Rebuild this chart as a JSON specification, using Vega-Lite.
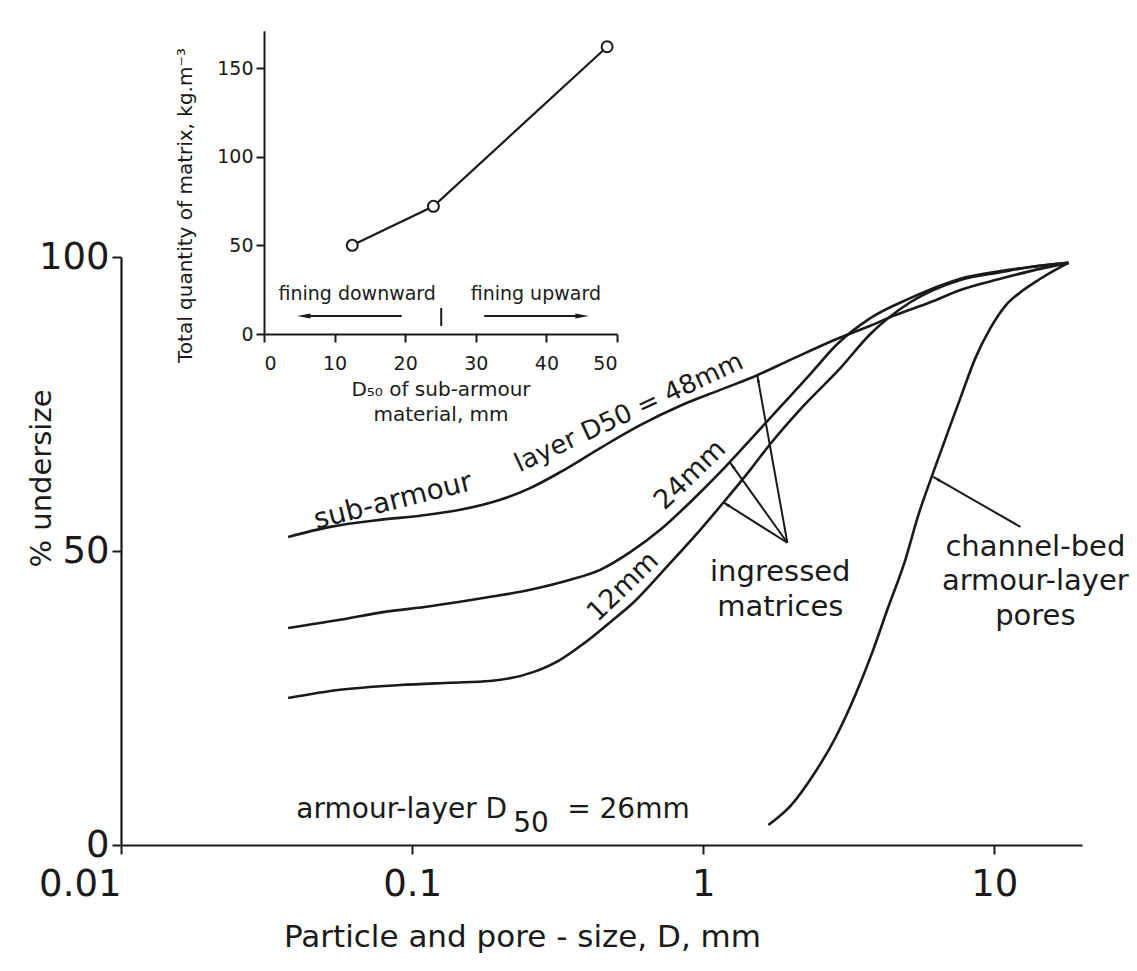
{
"$schema": "https://vega.github.io/schema/vega-lite/v6.json",
"width": 961, "height": 588,
"autosize": {"type": "none"},
"padding": {"left": 121, "top": 257, "right": 55, "bottom": 126},
"background": "white",
"config": {
  "view": {"stroke": null},
  "font": "DejaVu Sans",
  "axis": {"grid": false, "domainColor": "#1a1a1a", "tickColor": "#1a1a1a", "labelColor": "#1a1a1a", "titleColor": "#1a1a1a", "titleFontWeight": "normal", "labelFont": "DejaVu Sans", "titleFont": "DejaVu Sans"},
  "text": {"font": "DejaVu Sans", "color": "#1a1a1a"}
},
"datasets": {
  "curves": [
    {"curve":"48mm","D":0.0375,"pct":52.4},{"curve":"48mm","D":0.05225,"pct":54.1},{"curve":"48mm","D":0.07762,"pct":55.3},{"curve":"48mm","D":0.1065,"pct":56.0},{"curve":"48mm","D":0.1462,"pct":57.0},{"curve":"48mm","D":0.2006,"pct":58.7},{"curve":"48mm","D":0.2543,"pct":60.7},{"curve":"48mm","D":0.3226,"pct":63.4},{"curve":"48mm","D":0.4426,"pct":67.5},{"curve":"48mm","D":0.6074,"pct":71.4},{"curve":"48mm","D":0.8337,"pct":74.7},{"curve":"48mm","D":1.144,"pct":77.4},{"curve":"48mm","D":1.533,"pct":79.9},{"curve":"48mm","D":1.991,"pct":82.5},{"curve":"48mm","D":2.888,"pct":86.1},{"curve":"48mm","D":3.75,"pct":88.3},{"curve":"48mm","D":4.497,"pct":90.0},{"curve":"48mm","D":6.027,"pct":92.3},{"curve":"48mm","D":7.642,"pct":94.4},{"curve":"48mm","D":10.49,"pct":96.3},{"curve":"48mm","D":13.3,"pct":97.6},{"curve":"48mm","D":17.96,"pct":99.0},
    {"curve":"24mm","D":0.0375,"pct":36.9},{"curve":"24mm","D":0.05656,"pct":38.3},{"curve":"24mm","D":0.07949,"pct":39.6},{"curve":"24mm","D":0.1153,"pct":40.6},{"curve":"24mm","D":0.1754,"pct":42.0},{"curve":"24mm","D":0.2543,"pct":43.4},{"curve":"24mm","D":0.3491,"pct":45.1},{"curve":"24mm","D":0.4426,"pct":46.8},{"curve":"24mm","D":0.5612,"pct":49.8},{"curve":"24mm","D":0.7116,"pct":53.6},{"curve":"24mm","D":0.9023,"pct":58.3},{"curve":"24mm","D":1.144,"pct":63.4},{"curve":"24mm","D":1.45,"pct":68.9},{"curve":"24mm","D":1.839,"pct":74.5},{"curve":"24mm","D":2.332,"pct":80.1},{"curve":"24mm","D":2.888,"pct":85.2},{"curve":"24mm","D":3.75,"pct":89.6},{"curve":"24mm","D":5.144,"pct":93.0},{"curve":"24mm","D":7.642,"pct":96.3},{"curve":"24mm","D":10.49,"pct":97.6},{"curve":"24mm","D":13.3,"pct":98.3},{"curve":"24mm","D":17.96,"pct":99.0},
    {"curve":"12mm","D":0.0375,"pct":25.0},{"curve":"12mm","D":0.05656,"pct":26.4},{"curve":"12mm","D":0.09095,"pct":27.2},{"curve":"12mm","D":0.1351,"pct":27.6},{"curve":"12mm","D":0.1854,"pct":27.9},{"curve":"12mm","D":0.2604,"pct":29.4},{"curve":"12mm","D":0.3226,"pct":31.5},{"curve":"12mm","D":0.3869,"pct":34.2},{"curve":"12mm","D":0.4792,"pct":37.9},{"curve":"12mm","D":0.5746,"pct":41.2},{"curve":"12mm","D":0.752,"pct":47.4},{"curve":"12mm","D":0.9766,"pct":53.6},{"curve":"12mm","D":1.171,"pct":58.2},{"curve":"12mm","D":1.45,"pct":63.8},{"curve":"12mm","D":1.699,"pct":68.2},{"curve":"12mm","D":2.154,"pct":74.1},{"curve":"12mm","D":2.957,"pct":81.1},{"curve":"12mm","D":3.75,"pct":86.9},{"curve":"12mm","D":5.144,"pct":92.3},{"curve":"12mm","D":7.642,"pct":96.1},{"curve":"12mm","D":10.49,"pct":97.4},{"curve":"12mm","D":13.3,"pct":98.3},{"curve":"12mm","D":17.96,"pct":99.0},
    {"curve":"pores","D":1.673,"pct":3.4},{"curve":"pores","D":1.991,"pct":6.6},{"curve":"pores","D":2.388,"pct":11.9},{"curve":"pores","D":2.842,"pct":18.2},{"curve":"pores","D":3.329,"pct":25.5},{"curve":"pores","D":3.81,"pct":32.8},{"curve":"pores","D":4.288,"pct":40.0},{"curve":"pores","D":4.945,"pct":48.5},{"curve":"pores","D":5.481,"pct":56.1},{"curve":"pores","D":6.119,"pct":62.9},{"curve":"pores","D":7.062,"pct":71.4},{"curve":"pores","D":7.642,"pct":76.0},{"curve":"pores","D":8.604,"pct":82.8},{"curve":"pores","D":9.69,"pct":87.9},{"curve":"pores","D":10.91,"pct":91.7},{"curve":"pores","D":12.29,"pct":94.0},{"curve":"pores","D":14.39,"pct":96.3},{"curve":"pores","D":16.2,"pct":97.8},{"curve":"pores","D":17.96,"pct":99.0}
  ]
},
"layer": [
 {
  "layer": [
   {
    "data": {"name": "curves"},
    "mark": {"type": "line", "color": "#1a1a1a", "strokeWidth": 2.6, "interpolate": "monotone"},
    "encoding": {
      "x": {"field": "D", "type": "quantitative",
            "scale": {"type": "log", "domain": [0.01, 20], "nice": false},
            "axis": {"orient": "bottom", "values": [0.01, 0.1, 1, 10], "format": "~g",
                     "title": "Particle and pore - size, D, mm", "domainWidth": 2.2, "tickWidth": 2, "tickSize": 9,
                     "labelFontSize": 37, "labelPadding": 12,
                     "labelAlign": {"condition": {"test": "datum.value < 0.05", "value": "right"}, "value": "center"},
                     "titleFontSize": 31, "titleX": 401, "titleY": 92, "titleBaseline": "middle", "titleAlign": "center"}},
      "y": {"field": "pct", "type": "quantitative",
            "scale": {"domain": [0, 100], "nice": false, "zero": false},
            "axis": {"orient": "left", "values": [0, 50, 100], "title": "% undersize",
                     "domainWidth": 2.2, "tickWidth": 2, "tickSize": 9, "labelFontSize": 37, "labelPadding": 3,
                     "labelBaseline": "middle", "titleFontSize": 29, "titleX": -80, "titleY": 221, "titleAngle": -90,
                     "titleBaseline": "middle", "titleAlign": "center"}},
      "detail": {"field": "curve"}
    }
   },
   {
    "data": {"values": [
      {"D": 1.945, "pct": 51.4, "D2": 1.533, "pct2": 79.9},
      {"D": 1.945, "pct": 51.4, "D2": 1.238, "pct2": 65.0},
      {"D": 1.945, "pct": 51.4, "D2": 1.171, "pct2": 58.3},
      {"D": 12.29, "pct": 54.1, "D2": 6.17, "pct2": 62.6}
    ]},
    "mark": {"type": "rule", "color": "#1a1a1a", "strokeWidth": 2},
    "encoding": {
      "x": {"field": "D", "type": "quantitative"},
      "y": {"field": "pct", "type": "quantitative"},
      "x2": {"field": "D2"}, "y2": {"field": "pct2"}
    }
   },
   {
    "data": {"values": [{"D": 1.533, "pct": 79.9}]},
    "mark": {"type": "point", "shape": "M0,0L0.4,1.8L-0.4,1.8Z", "filled": true, "color": "#1a1a1a", "opacity": 1, "size": 64, "angle": -10},
    "encoding": {"x": {"field": "D", "type": "quantitative"}, "y": {"field": "pct", "type": "quantitative"}}
   },
   {
    "data": {"values": [{"D": 1.238, "pct": 65.0}]},
    "mark": {"type": "point", "shape": "M0,0L0.4,1.8L-0.4,1.8Z", "filled": true, "color": "#1a1a1a", "opacity": 1, "size": 64, "angle": -35},
    "encoding": {"x": {"field": "D", "type": "quantitative"}, "y": {"field": "pct", "type": "quantitative"}}
   },
   {
    "data": {"values": [{"D": 1.171, "pct": 58.3}]},
    "mark": {"type": "point", "shape": "M0,0L0.4,1.8L-0.4,1.8Z", "filled": true, "color": "#1a1a1a", "opacity": 1, "size": 64, "angle": -57},
    "encoding": {"x": {"field": "D", "type": "quantitative"}, "y": {"field": "pct", "type": "quantitative"}}
   },
   {
    "data": {"values": [{"D": 6.17, "pct": 62.6}]},
    "mark": {"type": "point", "shape": "M0,0L0.4,1.8L-0.4,1.8Z", "filled": true, "color": "#1a1a1a", "opacity": 1, "size": 64, "angle": -60},
    "encoding": {"x": {"field": "D", "type": "quantitative"}, "y": {"field": "pct", "type": "quantitative"}}
   },
   {
    "data": {"values": [
      {"label": "ingressed", "D": 1.839, "pct": 46.4},
      {"label": "matrices", "D": 1.839, "pct": 40.5},
      {"label": "channel-bed", "D": 13.83, "pct": 50.7},
      {"label": "armour-layer", "D": 13.83, "pct": 44.9},
      {"label": "pores", "D": 13.83, "pct": 38.9}
    ]},
    "mark": {"type": "text", "fontSize": 29, "align": "center", "baseline": "middle"},
    "encoding": {"x": {"field": "D", "type": "quantitative"}, "y": {"field": "pct", "type": "quantitative"}, "text": {"field": "label"}}
   },
   {
    "data": {"values": [{"label": "armour-layer  D", "D": 0.2121, "pct": 4.6}]},
    "mark": {"type": "text", "fontSize": 28, "align": "right", "baseline": "alphabetic"},
    "encoding": {"x": {"field": "D", "type": "quantitative"}, "y": {"field": "pct", "type": "quantitative"}, "text": {"field": "label"}}
   },
   {
    "data": {"values": [{"label": "50", "D": 0.2224, "pct": 2.2}, {"label": "= 26mm", "D": 0.3408, "pct": 4.6}]},
    "mark": {"type": "text", "fontSize": 28, "align": "left", "baseline": "alphabetic"},
    "encoding": {"x": {"field": "D", "type": "quantitative"}, "y": {"field": "pct", "type": "quantitative"}, "text": {"field": "label"}}
   },
   {
    "data": {"values": [{"label": "sub-armour", "D": 0.0874, "pct": 57.1}]},
    "mark": {"type": "text", "fontSize": 28, "align": "center", "baseline": "alphabetic", "angle": -14},
    "encoding": {"x": {"field": "D", "type": "quantitative"}, "y": {"field": "pct", "type": "quantitative"}, "text": {"field": "label"}}
   },
   {
    "data": {"values": [{"label": "layer D50 = 48mm", "D": 0.5702, "pct": 72.3}]},
    "mark": {"type": "text", "fontSize": 26, "align": "center", "baseline": "alphabetic", "angle": -25},
    "encoding": {"x": {"field": "D", "type": "quantitative"}, "y": {"field": "pct", "type": "quantitative"}, "text": {"field": "label"}}
   },
   {
    "data": {"values": [{"label": "24mm", "D": 0.9023, "pct": 62.9}, {"label": "12mm", "D": 0.5309, "pct": 43.9}]},
    "mark": {"type": "text", "fontSize": 27, "align": "center", "baseline": "middle", "angle": -44},
    "encoding": {"x": {"field": "D", "type": "quantitative"}, "y": {"field": "pct", "type": "quantitative"}, "text": {"field": "label"}}
   }
  ]
 },
 {
  "layer": [
   {
    "data": {"values": [{"d50": 12.5, "qty": 50}, {"d50": 24, "qty": 72}, {"d50": 48.6, "qty": 162}]},
    "mark": {"type": "line", "color": "#1a1a1a", "strokeWidth": 2.2},
    "encoding": {
      "x": {"field": "d50", "type": "quantitative",
            "scale": {"domain": [0, 50], "range": [143, 496], "nice": false, "zero": false},
            "axis": {"orient": "bottom", "offset": -511, "values": [0, 10, 20, 30, 40, 50],
                     "title": ["D₅₀ of sub-armour", "material, mm"], "domainWidth": 2, "tickWidth": 2, "tickSize": 8,
                     "labelFontSize": 19, "labelPadding": 12, "titleFontSize": 20, "titleLineHeight": 25, "titlePadding": 6}},
      "y": {"field": "qty", "type": "quantitative",
            "scale": {"domain": [0, 171], "range": [77, -226.2], "nice": false, "zero": false},
            "axis": {"orient": "left", "offset": -143, "values": [0, 50, 100, 150],
                     "title": "Total quantity of matrix, kg.m⁻³", "domainWidth": 2, "tickWidth": 2, "tickSize": 8,
                     "labelFontSize": 19, "labelPadding": 3, "labelBaseline": "middle", "titleFontSize": 20,
                     "titleX": -79, "titleY": -52, "titleAngle": -90, "titleBaseline": "middle", "titleAlign": "center"}}
    }
   },
   {
    "data": {"values": [{"d50": 12.5, "qty": 50}, {"d50": 24, "qty": 72}, {"d50": 48.6, "qty": 162}]},
    "mark": {"type": "point", "shape": "circle", "size": 120, "filled": true, "fill": "white", "stroke": "#1a1a1a", "strokeWidth": 2, "opacity": 1},
    "encoding": {"x": {"field": "d50", "type": "quantitative"}, "y": {"field": "qty", "type": "quantitative"}}
   },
   {
    "data": {"values": [
      {"d50": 19.5, "qty": 10.2, "d502": 6.5, "qty2": 10.2},
      {"d50": 31.2, "qty": 10.2, "d502": 44.5, "qty2": 10.2},
      {"d50": 25.1, "qty": 4.5, "d502": 25.1, "qty2": 14.7}
    ]},
    "mark": {"type": "rule", "color": "#1a1a1a", "strokeWidth": 2},
    "encoding": {"x": {"field": "d50", "type": "quantitative"}, "y": {"field": "qty", "type": "quantitative"}, "x2": {"field": "d502"}, "y2": {"field": "qty2"}}
   },
   {
    "data": {"values": [{"d50": 4.7, "qty": 10.2}]},
    "mark": {"type": "point", "shape": "M0,0L1.6,-0.3L1.6,0.3Z", "filled": true, "color": "#1a1a1a", "opacity": 1, "size": 280},
    "encoding": {"x": {"field": "d50", "type": "quantitative"}, "y": {"field": "qty", "type": "quantitative"}}
   },
   {
    "data": {"values": [{"d50": 46, "qty": 10.2}]},
    "mark": {"type": "point", "shape": "M0,0L-1.6,-0.3L-1.6,0.3Z", "filled": true, "color": "#1a1a1a", "opacity": 1, "size": 280},
    "encoding": {"x": {"field": "d50", "type": "quantitative"}, "y": {"field": "qty", "type": "quantitative"}}
   },
   {
    "data": {"values": [{"label": "fining downward", "d50": 13.2, "qty": 22.6}, {"label": "fining upward", "d50": 38.5, "qty": 22.6}]},
    "mark": {"type": "text", "fontSize": 19, "align": "center", "baseline": "middle"},
    "encoding": {"x": {"field": "d50", "type": "quantitative"}, "y": {"field": "qty", "type": "quantitative"}, "text": {"field": "label"}}
   }
  ]
 }
],
"resolve": {"scale": {"x": "independent", "y": "independent"}, "axis": {"x": "independent", "y": "independent"}}
}
